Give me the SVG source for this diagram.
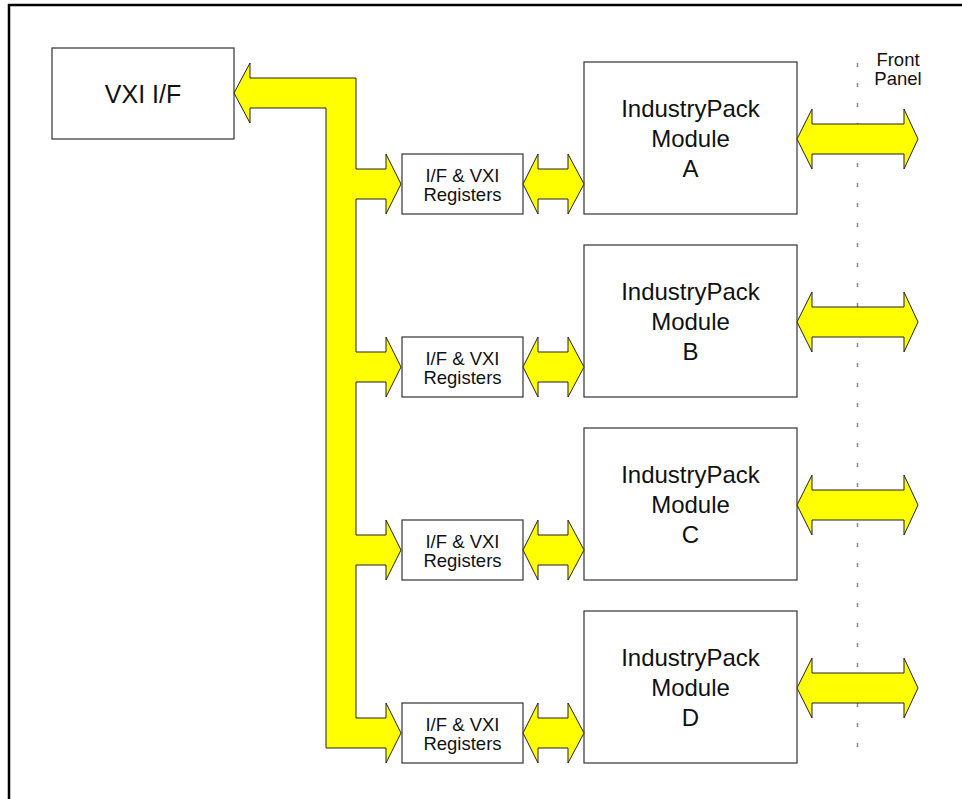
<svg xmlns="http://www.w3.org/2000/svg" width="962" height="799" viewBox="0 0 962 799">
<style>
.frame{fill:none;stroke:#000;stroke-width:2.5}
.box{fill:#fff;stroke:#333;stroke-width:1.2}
.bus{fill:#ffff00;stroke:#222;stroke-width:1}
.t{font-family:"Liberation Sans",Arial,sans-serif;fill:#111;text-anchor:middle}
.big{font-size:24px}
.reg{font-size:18.5px}
.fp{font-size:18.5px}
.dash{stroke:#888;stroke-width:1.5;stroke-dasharray:4 16;fill:none}
</style>
<rect class="frame" x="9" y="5" width="1000" height="900"/>
<g id="front-panel">
<line class="dash" x1="857.5" y1="63" x2="857.5" y2="748"/>
<text class="t fp" x="898" y="66">Front</text>
<text class="t fp" x="898" y="85">Panel</text>
</g>
<g id="vxi-if">
<rect class="box" x="52" y="48" width="182" height="91"/>
<text class="t" x="143" y="103" font-size="25">VXI I/F</text>
</g>
<g id="reg-a"><rect class="box" x="402" y="154" width="121" height="60"/><text class="t reg" x="462.5" y="182">I/F &amp; VXI</text><text class="t reg" x="462.5" y="201">Registers</text></g>
<g id="reg-b"><rect class="box" x="402" y="337" width="121" height="60"/><text class="t reg" x="462.5" y="365">I/F &amp; VXI</text><text class="t reg" x="462.5" y="384">Registers</text></g>
<g id="reg-c"><rect class="box" x="402" y="520" width="121" height="60"/><text class="t reg" x="462.5" y="548">I/F &amp; VXI</text><text class="t reg" x="462.5" y="567">Registers</text></g>
<g id="reg-d"><rect class="box" x="402" y="703" width="121" height="60"/><text class="t reg" x="462.5" y="731">I/F &amp; VXI</text><text class="t reg" x="462.5" y="750">Registers</text></g>
<g id="module-a"><rect class="box" x="584" y="62" width="213" height="152"/><text class="t big" x="690.5" y="117">IndustryPack</text><text class="t big" x="690.5" y="147">Module</text><text class="t big" x="690.5" y="177">A</text></g>
<g id="module-b"><rect class="box" x="584" y="245" width="213" height="152"/><text class="t big" x="690.5" y="300">IndustryPack</text><text class="t big" x="690.5" y="330">Module</text><text class="t big" x="690.5" y="360">B</text></g>
<g id="module-c"><rect class="box" x="584" y="428" width="213" height="152"/><text class="t big" x="690.5" y="483">IndustryPack</text><text class="t big" x="690.5" y="513">Module</text><text class="t big" x="690.5" y="543">C</text></g>
<g id="module-d"><rect class="box" x="584" y="611" width="213" height="152"/><text class="t big" x="690.5" y="666">IndustryPack</text><text class="t big" x="690.5" y="696">Module</text><text class="t big" x="690.5" y="726">D</text></g>
<g id="connectors">
<polygon class="bus" points="234,93 250,63 250,78 356,78 356,169 386,169 386,154 401,184 386,214 386,199 356,199 356,352 386,352 386,337 401,367 386,397 386,382 356,382 356,535 386,535 386,520 401,550 386,580 386,565 356,565 356,718 386,718 386,703 401,733 386,763 386,748 326,748 326,108 250,108 250,123"/>
<polygon class="bus" points="523,184 538,154 538,169 568,169 568,154 584,184 568,214 568,199 538,199 538,214"/>
<polygon class="bus" points="523,367 538,337 538,352 568,352 568,337 584,367 568,397 568,382 538,382 538,397"/>
<polygon class="bus" points="523,550 538,520 538,535 568,535 568,520 584,550 568,580 568,565 538,565 538,580"/>
<polygon class="bus" points="523,733 538,703 538,718 568,718 568,703 584,733 568,763 568,748 538,748 538,763"/>
<polygon class="bus" points="797,139 812,109 812,124 904,124 904,109 918,139 904,169 904,154 812,154 812,169"/>
<polygon class="bus" points="797,322 812,292 812,307 904,307 904,292 918,322 904,352 904,337 812,337 812,352"/>
<polygon class="bus" points="797,505 812,475 812,490 904,490 904,475 918,505 904,535 904,520 812,520 812,535"/>
<polygon class="bus" points="797,688 812,658 812,673 904,673 904,658 918,688 904,718 904,703 812,703 812,718"/>
</g>
</svg>
